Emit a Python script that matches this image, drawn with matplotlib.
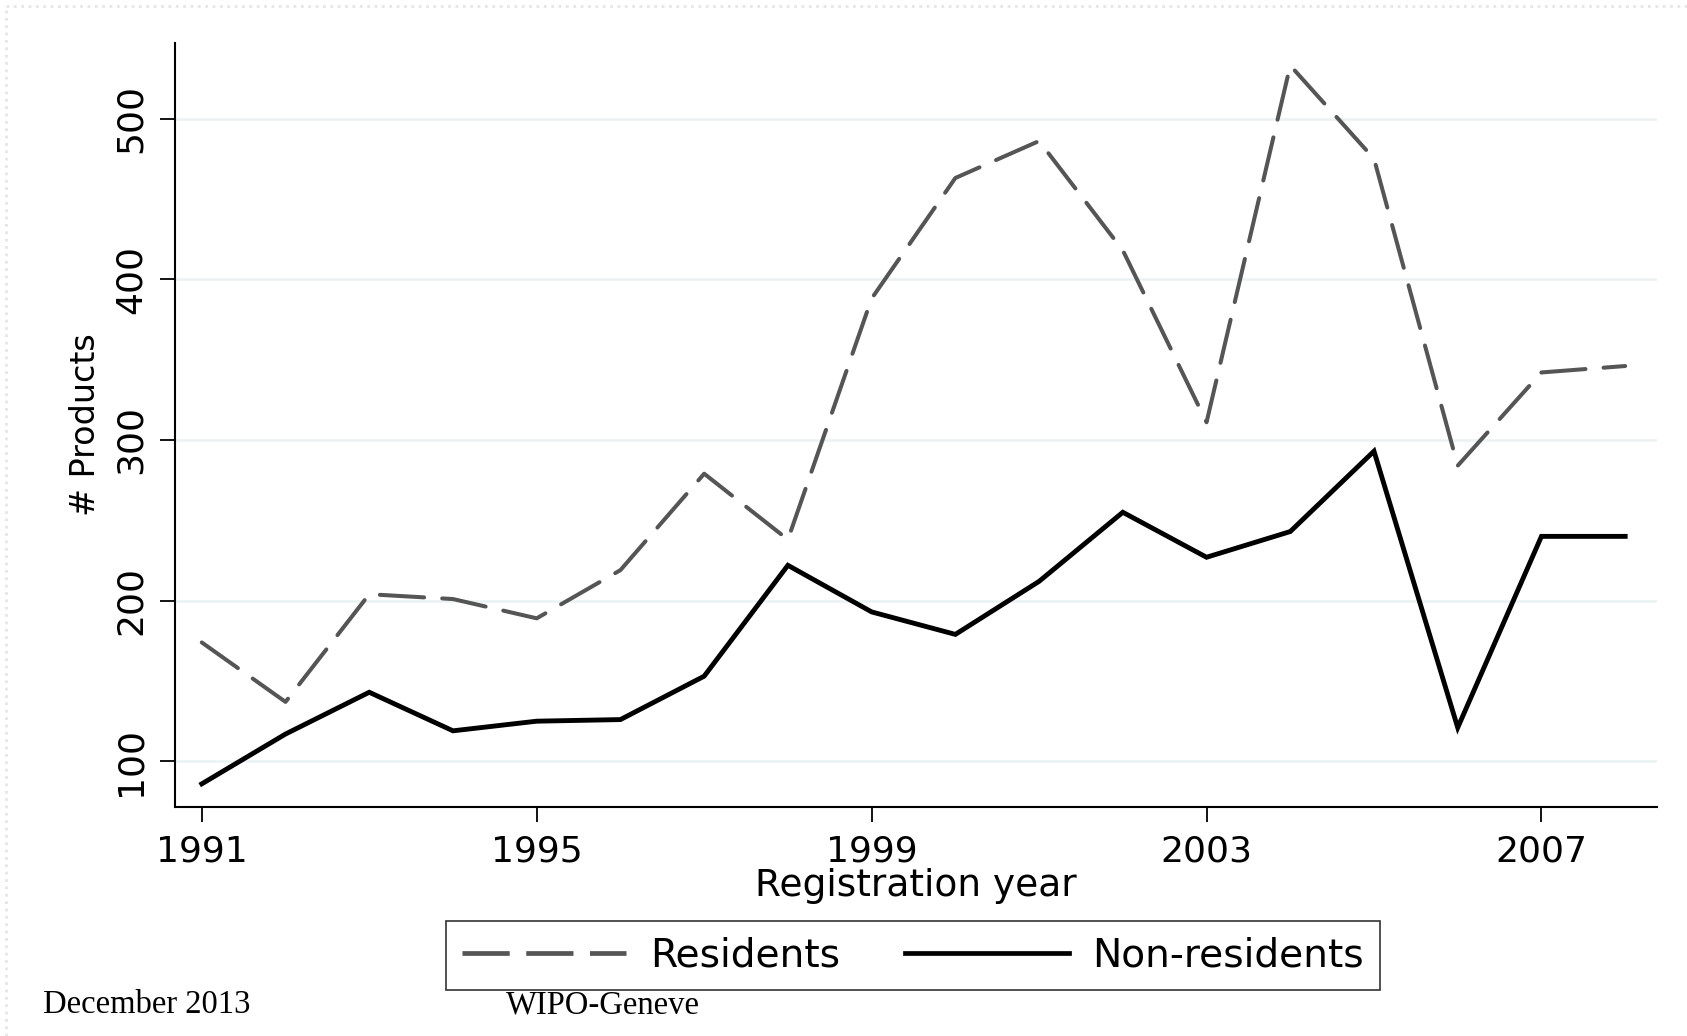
import matplotlib
matplotlib.use("Agg")
import matplotlib.pyplot as plt
from matplotlib.lines import Line2D

# registration years and product counts
years = [1991, 1992, 1993, 1994, 1995, 1996, 1997, 1998, 1999,
         2000, 2001, 2002, 2003, 2004, 2005, 2006, 2007, 2008]
residents = [174, 137, 204, 201, 189, 219, 279, 238, 388,
             463, 486, 418, 311, 533, 475, 284, 342, 346]
non_residents = [86, 117, 143, 119, 125, 126, 153, 222, 193,
                 179, 212, 255, 227, 243, 293, 121, 240, 240]

x_ticks = [1991, 1995, 1999, 2003, 2007]
y_ticks = [100, 200, 300, 400, 500]
series_labels = ["Residents", "Non-residents"]

W, H = 1687, 1036
fig = plt.figure(figsize=(W / 100, H / 100), dpi=100)
ax = fig.add_axes([175 / W, 1 - 807 / H, (1657 - 175) / W, (807 - 43) / H])

for y in y_ticks:
    ax.axhline(y, color="#eaf2f3", lw=1.8, zorder=0)

ax.plot(years, residents, color="#555555", lw=2.9,
        dashes=(11, 4.5), dash_capstyle="round", solid_joinstyle="miter",
        label=series_labels[0])
ax.plot(years, non_residents, color="black", lw=3.5,
        solid_joinstyle="miter", label=series_labels[1])

ax.set_xlim(1990.68, 2008.38)
ax.set_ylim(71.6, 547)
ax.set_xticks(x_ticks)
ax.set_yticks(y_ticks)
ax.set_yticklabels([str(v) for v in y_ticks], rotation=90, va="center")
ax.tick_params(direction="out", length=10.8, width=1.3, labelsize=26,
               color="black")
ax.tick_params(axis="y", pad=9)
ax.tick_params(axis="x", pad=9)

for s in ["top", "right"]:
    ax.spines[s].set_visible(False)
for s in ["left", "bottom"]:
    ax.spines[s].set_linewidth(1.5)

ax.set_xlabel("Registration year", fontsize=27, labelpad=0)
ax.set_ylabel("# Products", fontsize=24, labelpad=8)

handles = [Line2D([], [], color="#555555", lw=3.4, dashes=(10, 3.5)),
           Line2D([], [], color="black", lw=3.4)]
leg = fig.legend(handles, series_labels, loc="center", ncol=2,
                 bbox_to_anchor=(913 / W, 1 - 955.5 / H), fontsize=28.2,
                 frameon=True, fancybox=False, handlelength=4.2,
                 handletextpad=0.6, columnspacing=1.65, borderpad=0.4)
leg.get_frame().set_edgecolor("black")
leg.get_frame().set_linewidth(1.2)

# footer of the slide
fig.text(43 / W, 1 - 1013 / H, "December 2013", family="Liberation Serif",
         fontsize=23.5, va="baseline")
fig.text(506 / W, 1 - 1013 / H, "WIPO-Geneve", family="Liberation Serif",
         fontsize=23.5, va="baseline")

# faint dotted slide border
fig.add_artist(Line2D([6 / W, 1], [1 - 6 / H, 1 - 6 / H], color="#e6e6e6",
                      lw=2, ls=":"))
fig.add_artist(Line2D([6 / W, 6 / W], [0, 1 - 6 / H], color="#e6e6e6",
                      lw=2, ls=":"))

fig.savefig("out.png", dpi=100)
